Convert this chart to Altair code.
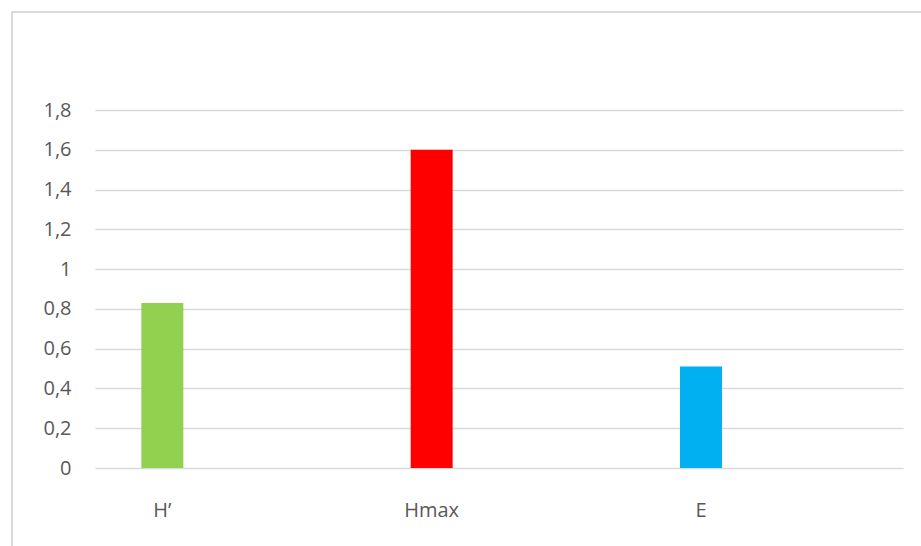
import altair as alt
import pandas as pd

# Diversity indices
categories = ["H’", "Hmax", "E"]
values = [0.83, 1.6, 0.51]
colors = ["#92D050", "#FF0000", "#00B0F0"]
y_ticks = [0, 0.2, 0.4, 0.6, 0.8, 1.0, 1.2, 1.4, 1.6, 1.8]

df = pd.DataFrame({"index": categories, "value": values})

label_font = "Open Sans"
label_color = "#595959"
grid_color = "#d9d9d9"

bars = alt.Chart(df).mark_bar(size=42).encode(
    x=alt.X(
        "index:N",
        sort=categories,
        scale=alt.Scale(paddingInner=0.5, paddingOuter=0.25, align=0),
        axis=alt.Axis(
            title=None,
            labelAngle=0,
            domain=False,
            ticks=False,
            labelPadding=32,
            labelFont=label_font,
            labelFontSize=20,
            labelColor=label_color,
        ),
    ),
    y=alt.Y(
        "value:Q",
        scale=alt.Scale(domain=[0, 1.8], nice=False),
        axis=alt.Axis(
            title=None,
            values=y_ticks,
            labelExpr="replace(format(datum.value, '~g'), '.', ',')",
            domain=False,
            ticks=False,
            labelPadding=24,
            labelFont=label_font,
            labelFontSize=20,
            labelColor=label_color,
            grid=True,
            gridColor=grid_color,
            gridWidth=1.5,
        ),
    ),
    color=alt.Color(
        "index:N",
        scale=alt.Scale(domain=categories, range=colors),
        legend=None,
    ),
)

# Light outer frame around the chart
frame = alt.Chart(pd.DataFrame({"k": [0]})).mark_rect(
    fill=None, stroke=grid_color, strokeWidth=2
).encode(
    x=alt.value(-83),
    y=alt.value(-98),
    x2=alt.value(960),
    y2=alt.value(600),
)

chart = (
    alt.layer(frame, bars)
    .properties(
        width=808,
        height=358,
        autosize=alt.AutoSizeParams(type="none"),
        padding={"left": 95, "top": 110, "right": 18, "bottom": 78},
        background="white",
    )
    .configure_view(stroke=None)
)

chart.save("out.html", embed_options={"renderer": "svg", "actions": False})
